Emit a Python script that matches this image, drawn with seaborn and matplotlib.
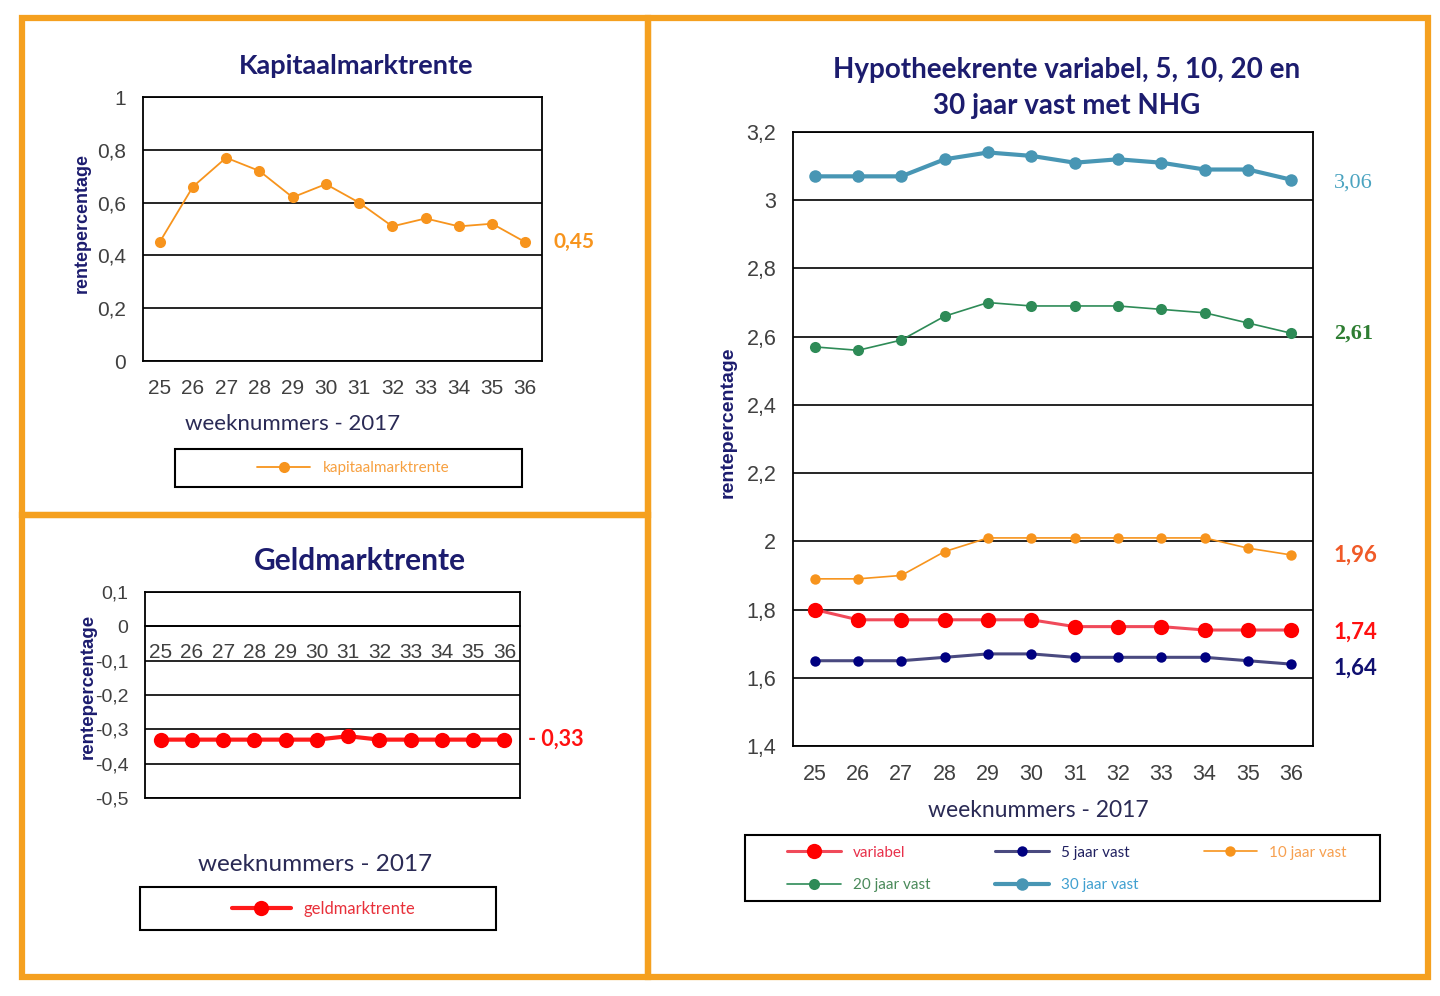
import numpy as np
import matplotlib
matplotlib.use("Agg")
import matplotlib.pyplot as plt
from matplotlib.patches import Rectangle
from matplotlib.ticker import FuncFormatter, FixedLocator
import seaborn as sns

# weeknummers 2017
weeks = ["25", "26", "27", "28", "29", "30", "31", "32", "33", "34", "35", "36"]

kapitaal = [0.45, 0.66, 0.77, 0.72, 0.62, 0.67, 0.60, 0.51, 0.54, 0.51, 0.52, 0.45]
geld = [-0.33, -0.33, -0.33, -0.33, -0.33, -0.33, -0.32, -0.33, -0.33, -0.33, -0.33, -0.33]

variabel = [1.80, 1.77, 1.77, 1.77, 1.77, 1.77, 1.75, 1.75, 1.75, 1.74, 1.74, 1.74]
vast5 = [1.65, 1.65, 1.65, 1.66, 1.67, 1.67, 1.66, 1.66, 1.66, 1.66, 1.65, 1.64]
vast10 = [1.89, 1.89, 1.90, 1.97, 2.01, 2.01, 2.01, 2.01, 2.01, 2.01, 1.98, 1.96]
vast20 = [2.57, 2.56, 2.59, 2.66, 2.70, 2.69, 2.69, 2.69, 2.68, 2.67, 2.64, 2.61]
vast30 = [3.07, 3.07, 3.07, 3.12, 3.14, 3.13, 3.11, 3.12, 3.11, 3.09, 3.09, 3.06]

sns.set_theme(style="white")
plt.rcParams["font.family"] = ["Liberation Sans", "DejaVu Sans"]

W, H = 1440, 996
fig = plt.figure(figsize=(W / 100, H / 100), dpi=100)
fig.patch.set_facecolor("white")


def rect(x0, y0, x1, y1):
    return [x0 / W, 1 - y1 / H, (x1 - x0) / W, (y1 - y0) / H]


def fx(x):
    return x / W


def fy(y):
    return 1 - y / H


NAVY = "#1c1c6e"
ORANGE_BORDER = "#f5a01f"
TICKCOL = "#404040"

# orange panel borders
for (x0, y0, x1, y1) in [(22, 18, 648, 515), (22, 515, 648, 977), (648, 18, 1428, 977)]:
    fig.patches.append(Rectangle((fx(x0), fy(y1)), (x1 - x0) / W, (y1 - y0) / H,
                                 transform=fig.transFigure, fill=False,
                                 edgecolor=ORANGE_BORDER, linewidth=4.5, zorder=0))

xs = np.arange(len(weeks))


def comma(v, pos=None):
    if abs(v - round(v)) < 1e-9:
        return "%d" % round(v)
    return ("%.1f" % v).replace(".", ",")


def style_axis(ax, ymin, ymax, step, fs, xpad):
    ax.set_xlim(-0.5, len(weeks) - 0.5)
    ax.set_ylim(ymin, ymax)
    ax.yaxis.set_major_locator(FixedLocator(np.round(np.arange(ymin, ymax + step / 2, step), 3)))
    ax.yaxis.set_major_formatter(FuncFormatter(comma))
    ax.set_xticks(xs)
    ax.set_xticklabels(weeks)
    ax.set_xticks(np.arange(-0.5, len(weeks), 1), minor=True)
    ax.tick_params(axis="x", which="major", length=0, labelsize=fs, labelcolor=TICKCOL, pad=xpad)
    ax.tick_params(axis="x", which="minor", length=7, width=1.2, color="black", direction="out")
    ax.tick_params(axis="y", length=0, labelsize=fs, labelcolor=TICKCOL, pad=12)
    ax.yaxis.grid(True, color="black", linewidth=1.2)
    ax.xaxis.grid(False)
    for s in ax.spines.values():
        s.set_color("black")
        s.set_linewidth(1.3)
    ax.set_xlabel("")
    ax.set_ylabel("")
    ax.set_axisbelow(True)


# ---------- Kapitaalmarktrente ----------
ax1 = fig.add_axes(rect(143, 97, 542, 361))
sns.lineplot(x=xs, y=kapitaal, ax=ax1, color="#f7941d", linewidth=1.3, marker="o",
             markersize=8, markeredgewidth=0, label="kapitaalmarktrente", legend=False)
style_axis(ax1, 0, 1, 0.2, 15, 13)
ax1.text(1.03, kapitaal[-1], "0,45", transform=ax1.get_yaxis_transform(), color="#f7941d",
         fontsize=15, fontweight="bold", family="Lato", va="center")
fig.text(fx(356), fy(66), "Kapitaalmarktrente", ha="center", va="center", color=NAVY,
         fontsize=19.5, fontweight="bold", family="Lato")
fig.text(fx(293), fy(424), "weeknummers - 2017", ha="center", va="center", color="#2a2a55",
         fontsize=16, family="Lato")
fig.text(fx(82), fy(223), "rentepercentage", rotation=90, ha="center", va="center",
         color=NAVY, fontsize=13, fontweight="bold")
fig.patches.append(Rectangle((fx(175), fy(487)), (522 - 175) / W, (487 - 449) / H,
                             transform=fig.transFigure, fill=False, edgecolor="black", linewidth=1.5))
h, l = ax1.get_legend_handles_labels()
fig.legend(h, l, loc="center", bbox_to_anchor=(fx(353), fy(468)), frameon=False,
           labelcolor="#f7a040", handlelength=3.5, prop={"family": "Lato", "size": 11})

# ---------- Geldmarktrente ----------
ax2 = fig.add_axes(rect(145, 592, 520, 798))
sns.lineplot(x=xs, y=geld, ax=ax2, color="#ff1a1a", linewidth=3, marker="o",
             markersize=11, markeredgewidth=0, markerfacecolor="#ff0000",
             label="geldmarktrente", legend=False)
style_axis(ax2, -0.5, 0.1, 0.1, 14, 12)
ax2.tick_params(axis="x", which="major", labelsize=15)
ax2.spines["bottom"].set_position(("data", 0))
ax2.set_xticks(np.arange(0.5, len(weeks) - 1, 1), minor=True)
ax2.axhline(-0.5, color="black", linewidth=1.3, clip_on=False)
ax2.text(1.02, geld[-1], "- 0,33", transform=ax2.get_yaxis_transform(), color="#ff1010",
         fontsize=15.5, fontweight="bold", family="Lato", va="center")
fig.text(fx(360), fy(561), "Geldmarktrente", ha="center", va="center", color=NAVY,
         fontsize=21.5, fontweight="bold", family="Lato")
fig.text(fx(315), fy(864), "weeknummers - 2017", ha="center", va="center", color="#2a2a55",
         fontsize=17.5, family="Lato")
fig.text(fx(88), fy(686), "rentepercentage", rotation=90, ha="center", va="center",
         color=NAVY, fontsize=13.5, fontweight="bold")
fig.patches.append(Rectangle((fx(140), fy(930)), (496 - 140) / W, (930 - 887) / H,
                             transform=fig.transFigure, fill=False, edgecolor="black", linewidth=1.5))
h, l = ax2.get_legend_handles_labels()
fig.legend(h, l, loc="center", bbox_to_anchor=(fx(324), fy(909)), frameon=False,
           labelcolor="#e8303a", handlelength=3.5, prop={"family": "Lato", "size": 12})

# ---------- Hypotheekrente ----------
ax3 = fig.add_axes(rect(793, 132, 1313, 746))
series = [
    ("variabel", variabel, "#f04a5a", "#ff0000", 2.2, 11),
    ("5 jaar vast", vast5, "#4a4a80", "#000080", 2.2, 7.5),
    ("10 jaar vast", vast10, "#f7941d", "#f7941d", 1.2, 7.5),
    ("20 jaar vast", vast20, "#2e8b57", "#2e8b57", 1.2, 8),
    ("30 jaar vast", vast30, "#4896b4", "#4896b4", 3.0, 9),
]
for name, vals, lc, mc, lw, ms in series:
    sns.lineplot(x=xs, y=vals, ax=ax3, color=lc, linewidth=lw, marker="o", markersize=ms,
                 markeredgewidth=0, markerfacecolor=mc, label=name, legend=False)
style_axis(ax3, 1.4, 3.2, 0.2, 15.5, 13)

end_labels = [
    (vast30, "3,06", "#4aa3c0", "Liberation Serif", "normal", -0.01),
    (vast20, "2,61", "#2e7d32", "Liberation Serif", "bold", 0.0),
    (vast10, "1,96", "#f05a28", "Lato", "bold", 0.0),
    (variabel, "1,74", "#ff1010", "Lato", "bold", -0.005),
    (vast5, "1,64", "#101070", "Lato", "bold", -0.012),
]
for vals, txt, col, fam, fw, dy in end_labels:
    ax3.text(1.04, vals[-1] + dy, txt, transform=ax3.get_yaxis_transform(), color=col,
             fontsize=16, fontweight=fw, family=fam, va="center")

fig.text(fx(1067), fy(70), "Hypotheekrente variabel, 5, 10, 20 en", ha="center", va="center",
         color=NAVY, fontsize=20, fontweight="bold", family="Lato")
fig.text(fx(1067), fy(106), "30 jaar vast met NHG", ha="center", va="center",
         color=NAVY, fontsize=20, fontweight="bold", family="Lato")
fig.text(fx(1038), fy(810), "weeknummers - 2017", ha="center", va="center", color="#2a2a55",
         fontsize=16.5, family="Lato")
fig.text(fx(728), fy(422), "rentepercentage", rotation=90, ha="center", va="center",
         color=NAVY, fontsize=14, fontweight="bold")
fig.patches.append(Rectangle((fx(745), fy(901)), (1380 - 745) / W, (901 - 835) / H,
                             transform=fig.transFigure, fill=False, edgecolor="black", linewidth=1.5))
h, l = ax3.get_legend_handles_labels()
order = [0, 3, 1, 4, 2]
label_cols = ["#e8304a", "#4a8a5a", "#202060", "#40a0d0", "#f7a050"]
fig.legend([h[i] for i in order], [l[i] for i in order], loc="center",
           bbox_to_anchor=(fx(1067), fy(869)), frameon=False, ncol=3,
           labelcolor=label_cols, handlelength=3.5, columnspacing=4.25, labelspacing=1.2,
           prop={"family": "Lato", "size": 11})

fig.savefig("out.png", dpi=100)
